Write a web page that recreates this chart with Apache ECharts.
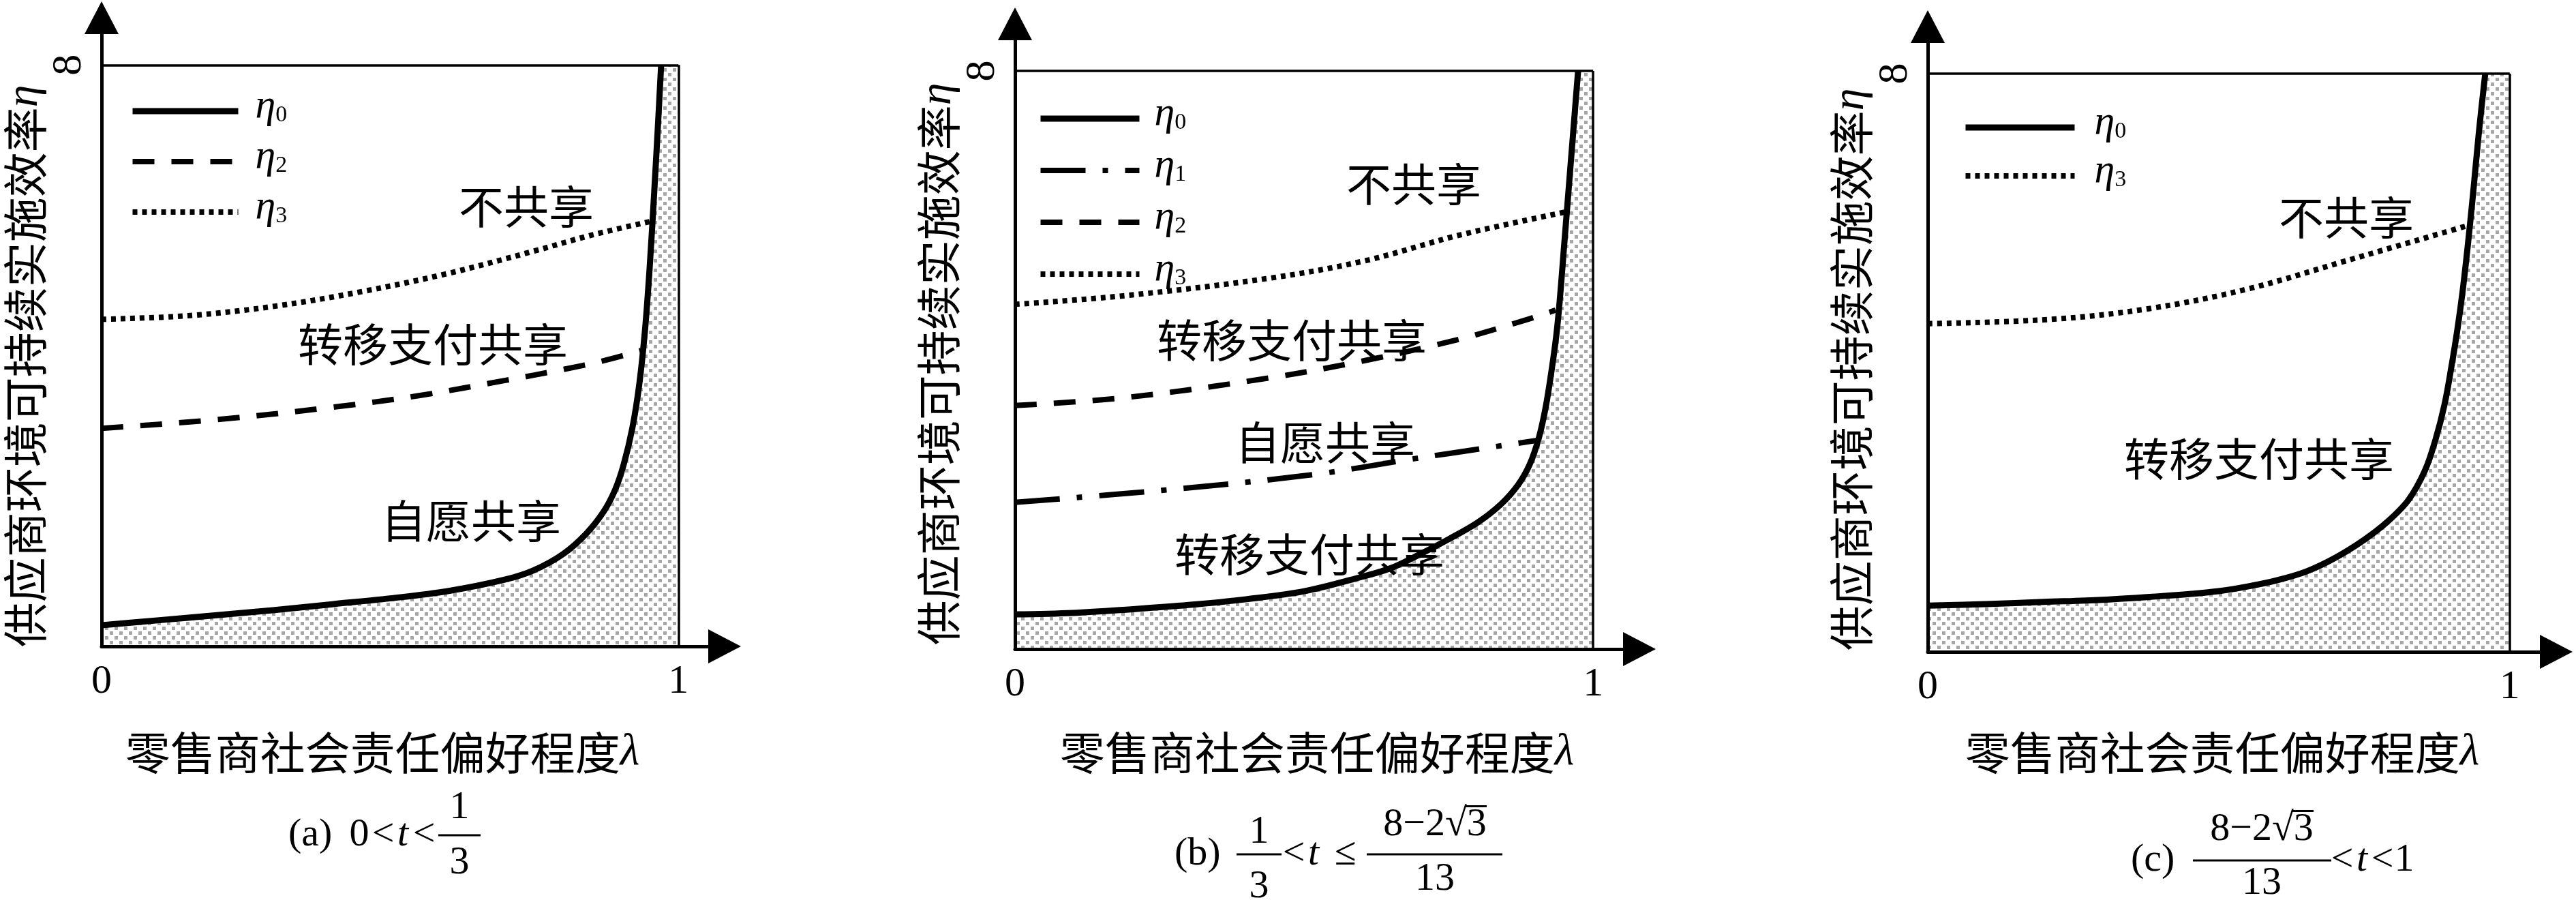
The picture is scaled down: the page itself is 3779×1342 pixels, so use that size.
<!DOCTYPE html>
<html><head><meta charset="utf-8">
<script src="https://cdn.jsdelivr.net/npm/echarts@6/dist/echarts.min.js"></script>
<style>html,body{margin:0;padding:0;background:#fff}#c{width:3779px;height:1342px}</style>
</head><body><div id="c"></div>
<script>
// ---------------- data ----------------
const X_TICKS = [0, 1];
const Y_TICKS = [8];
const X_BOX = 1;      // right edge of the framed region (value)
const Y_BOX = 8;      // top edge of the framed region (value)
const X_MAX = 1.08;   // axis extends past the frame to the arrow
const Y_MAX = 8.65;

// panel (a)
const A_ETA0 = [[0,0.29],[0.1,0.36],[0.2,0.43],[0.3,0.50],[0.4,0.58],[0.5,0.66],[0.6,0.76],[0.7,0.92],[0.75,1.05],[0.8,1.27],[0.84,1.55],[0.87,1.85],[0.89,2.15],[0.905,2.5],[0.92,3.0],[0.932,3.6],[0.942,4.35],[0.95,5.2],[0.958,6.25],[0.964,7.1],[0.970,8]];
const A_ETA2 = [[0,3.0],[0.2,3.12],[0.4,3.29],[0.55,3.45],[0.7,3.66],[0.8,3.81],[0.87,3.93],[0.935,4.07]];
const A_ETA3 = [[0,4.50],[0.15,4.55],[0.3,4.68],[0.45,4.88],[0.6,5.13],[0.75,5.44],[0.85,5.66],[0.953,5.85]];
// panel (b)
const B_ETA0 = [[0,0.48],[0.1,0.50],[0.2,0.55],[0.3,0.61],[0.4,0.69],[0.5,0.80],[0.6,1.0],[0.65,1.12],[0.7,1.31],[0.75,1.52],[0.8,1.75],[0.84,2.0],[0.87,2.27],[0.89,2.55],[0.906,2.92],[0.918,3.35],[0.928,3.85],[0.936,4.32],[0.942,4.8],[0.949,5.5],[0.957,6.3],[0.965,7.1],[0.974,8]];
const B_ETA1 = [[0,2.03],[0.273,2.21],[0.521,2.42],[0.687,2.63],[0.813,2.78],[0.905,2.89]];
const B_ETA2 = [[0,3.37],[0.191,3.48],[0.439,3.75],[0.604,3.99],[0.770,4.29],[0.886,4.56],[0.935,4.69]];
const B_ETA3 = [[0,4.77],[0.191,4.89],[0.439,5.13],[0.604,5.37],[0.770,5.73],[0.954,6.05]];
// panel (c)
const C_ETA0 = [[0,0.64],[0.1,0.66],[0.2,0.69],[0.3,0.72],[0.4,0.77],[0.45,0.80],[0.5,0.84],[0.55,0.905],[0.6,0.99],[0.65,1.11],[0.7,1.30],[0.75,1.55],[0.79,1.80],[0.826,2.10],[0.854,2.50],[0.872,2.92],[0.888,3.42],[0.9,3.95],[0.91,4.45],[0.919,4.98],[0.928,5.62],[0.937,6.33],[0.947,7.18],[0.958,8]];
const C_ETA3 = [[0,4.54],[0.213,4.60],[0.382,4.75],[0.550,5.02],[0.719,5.41],[0.925,5.89]];

const X_NAME = '零售商社会责任偏好程度{i|λ}';
const Y_NAME = '供应商环境可持续实施效率{i|η}';
const LEGEND_A = ['η0','η2','η3'];
const LEGEND_B = ['η0','η1','η2','η3'];
const LEGEND_C = ['η0','η3'];
const REGIONS_A = ['不共享','转移支付共享','自愿共享'];
const REGIONS_B = ['不共享','转移支付共享','自愿共享','转移支付共享'];
const REGIONS_C = ['不共享','转移支付共享'];

// ---------------- styles / layout ----------------
const SERIF = '"Liberation Serif","Times New Roman",serif';
const CJK = '"Noto Sans CJK SC",sans-serif';
const SMOOTH = 0.35;
const LINE_STYLES = {
  'η0': {type:'solid', width:9},
  'η1': {type:[66,25,8,25], width:8},
  'η2': {type:[32,25], width:8},
  'η3': {type:[7,7], width:8}
};
const PANELS = [
  {grid:{left:149, top:26, width:914, height:922}, xGap:123, xPadR:90, yPadR:100,
   legend:{left:190, top:126, w:155, gap:0, pad:20},
   series:[['η0',A_ETA0],['η2',A_ETA2],['η3',A_ETA3]], legendNames:LEGEND_A,
   regions:REGIONS_A, regionPos:[[772,303],[635,505],[691,764]]},
  {grid:{left:1489, top:35, width:916, height:917}, xGap:119, xPadR:30, yPadR:81,
   legend:{left:1522, top:137, w:145, gap:2, pad:17},
   series:[['η0',B_ETA0],['η1',B_ETA1],['η2',B_ETA2],['η3',B_ETA3]], legendNames:LEGEND_B,
   regions:REGIONS_B, regionPos:[[2074,270],[1895,499],[1944,649],[1921,813]]},
  {grid:{left:2828, top:39, width:922, height:917}, xGap:115, xPadR:58, yPadR:89,
   legend:{left:2879, top:150, w:160, gap:-3, pad:24},
   series:[['η0',C_ETA0],['η3',C_ETA3]], legendNames:LEGEND_C,
   regions:REGIONS_C, regionPos:[[3442,319],[3314,673]]}
];

function hatchCanvas(){
  const c = document.createElement('canvas'); c.width = 14; c.height = 14;
  const g = c.getContext('2d'); g.fillStyle = '#a6a6a6';
  g.fillRect(0,9,5,5); g.fillRect(7,2,5,5);
  return c;
}
const HATCH = hatchCanvas();

const grids=[], xAxes=[], yAxes=[], series=[], legends=[], graphics=[];
PANELS.forEach((p, i) => {
  grids.push(Object.assign({containLabel:false, outerBoundsMode:'none'}, p.grid));
  xAxes.push({
    gridIndex:i, type:'value', min:0, max:X_MAX, z:10,
    axisLine:{show:true, onZero:false, lineStyle:{color:'#000', width:5}, symbol:['none','triangle'], symbolSize:[50,48]},
    axisTick:{show:false}, splitLine:{show:false},
    axisLabel:{customValues:X_TICKS, margin:22, fontSize:60, fontFamily:SERIF, color:'#000'},
    name:X_NAME, nameLocation:'middle', nameGap:p.xGap,
    nameTextStyle:{fontSize:66, fontFamily:CJK, color:'#000', padding:[0,p.xPadR,0,0],
      rich:{i:{fontSize:66, fontFamily:SERIF, fontStyle:'italic', color:'#000'}}}
  });
  yAxes.push({
    gridIndex:i, type:'value', min:0, max:Y_MAX, z:10,
    axisLine:{show:true, onZero:false, lineStyle:{color:'#000', width:5}, symbol:['none','triangle'], symbolSize:[50,48]},
    axisTick:{show:false}, splitLine:{show:false},
    axisLabel:{customValues:Y_TICKS, rotate:90, margin:16, fontSize:62, fontFamily:SERIF, color:'#000'},
    name:Y_NAME, nameLocation:'middle', nameRotate:90, nameGap:79,
    nameTextStyle:{fontSize:66, fontFamily:CJK, color:'#000', padding:[0,p.yPadR,0,0],
      rich:{i:{fontSize:66, fontFamily:SERIF, fontStyle:'italic', color:'#000'}}}
  });
  const eta0 = p.series[0][1];
  series.push({
    type:'line', name:'hatch'+i, xAxisIndex:i, yAxisIndex:i, z:1,
    data: eta0.concat([[X_BOX, Y_BOX]]), smooth:SMOOTH, symbol:'none',
    lineStyle:{width:0}, areaStyle:{color:{image:HATCH, repeat:'repeat'}, opacity:1}, silent:true
  });
  p.series.forEach(([name, data], k) => {
    const ls = LINE_STYLES[name];
    const s = {
      type:'line', name, xAxisIndex:i, yAxisIndex:i, z:3, data, smooth:SMOOTH,
      symbol:'none', showSymbol:false, lineStyle:{color:'#000', width:ls.width, type:ls.type, cap:'butt', join:'round'}
    };
    if (k === 0) {
      s.markLine = {silent:true, symbol:'none', label:{show:false}, animation:false,
        lineStyle:{color:'#000', width:3.5, type:'solid'},
        data:[[{coord:[0,Y_BOX]},{coord:[X_BOX,Y_BOX]}],[{coord:[X_BOX,0]},{coord:[X_BOX,Y_BOX]}]]};
    }
    series.push(s);
  });
  legends.push({
    data:p.legendNames.map(n => ({name:n, lineStyle:{width:LINE_STYLES[n].width, type:LINE_STYLES[n].type, color:'#000'}})),
    orient:'vertical', left:p.legend.left, top:p.legend.top,
    itemWidth:p.legend.w, itemHeight:20, itemGap:p.legend.gap, selectedMode:false,
    padding:0, itemStyle:{color:'rgba(0,0,0,0)', borderWidth:0},
    lineStyle:{width:8, color:'#000'},
    formatter: n => '{e|η}{s|' + n.slice(1) + '}',
    textStyle:{rich:{
      e:{fontFamily:SERIF, fontStyle:'italic', fontSize:60, lineHeight:46, padding:[0,0,14,p.legend.pad], color:'#000'},
      s:{fontFamily:SERIF, fontSize:34, lineHeight:20, verticalAlign:'bottom', color:'#000'}
    }}
  });
  p.regions.forEach((t, k) => {
    graphics.push({type:'text', x:p.regionPos[k][0], y:p.regionPos[k][1], z:20,
      style:{text:t, fontSize:66, fontFamily:CJK, fill:'#000', align:'center', verticalAlign:'middle'}});
  });
});

// captions
function txt(x, y, text, align, italic){
  return {type:'text', x, y, z:20, style:{text, fontSize:58, fontFamily:SERIF, fontStyle:italic?'italic':'normal',
    fill:'#000', align:align||'center', verticalAlign:'middle'}};
}
function bar(x1, x2, y){ return {type:'rect', z:20, shape:{x:x1, y:y-1.5, width:x2-x1, height:3}, style:{fill:'#000'}}; }
graphics.push(
  // (a)
  txt(423, 1225, '(a)', 'left'), txt(527, 1225, '0'), txt(562, 1225, '<'), txt(591, 1225, 't', 'center', true), txt(622, 1225, '<'),
  txt(674, 1185, '1'), bar(643, 705, 1225), txt(674, 1266, '3'),
  // (b)
  txt(1723, 1253, '(b)', 'left'), txt(1847, 1221, '1'), bar(1814, 1880, 1253), txt(1847, 1301, '3'),
  txt(1898, 1253, '<'), txt(1927, 1253, 't', 'center', true), txt(1974, 1253, '≤'),
  txt(2105, 1210, '8−2√3'), bar(2005, 2204, 1253), txt(2105, 1290, '13'),
  {type:'rect', z:20, shape:{x:2150, y:1181, width:31, height:3}, style:{fill:'#000'}},
  // (c)
  txt(3126, 1262, '(c)', 'left'), txt(3318, 1217, '8−2√3'), bar(3217, 3420, 1262), txt(3318, 1296, '13'),
  {type:'rect', z:20, shape:{x:3363, y:1188, width:31, height:3}, style:{fill:'#000'}},
  txt(3436, 1262, '<'), txt(3465, 1262, 't', 'center', true), txt(3495, 1262, '<'), txt(3527, 1262, '1')
);

const chart = echarts.init(document.getElementById('c'), null, {renderer:'canvas'});
chart.setOption({
  animation:false, backgroundColor:'#fff',
  grid:grids, xAxis:xAxes, yAxis:yAxes, series, legend:legends, graphic:graphics
});
</script></body></html>
